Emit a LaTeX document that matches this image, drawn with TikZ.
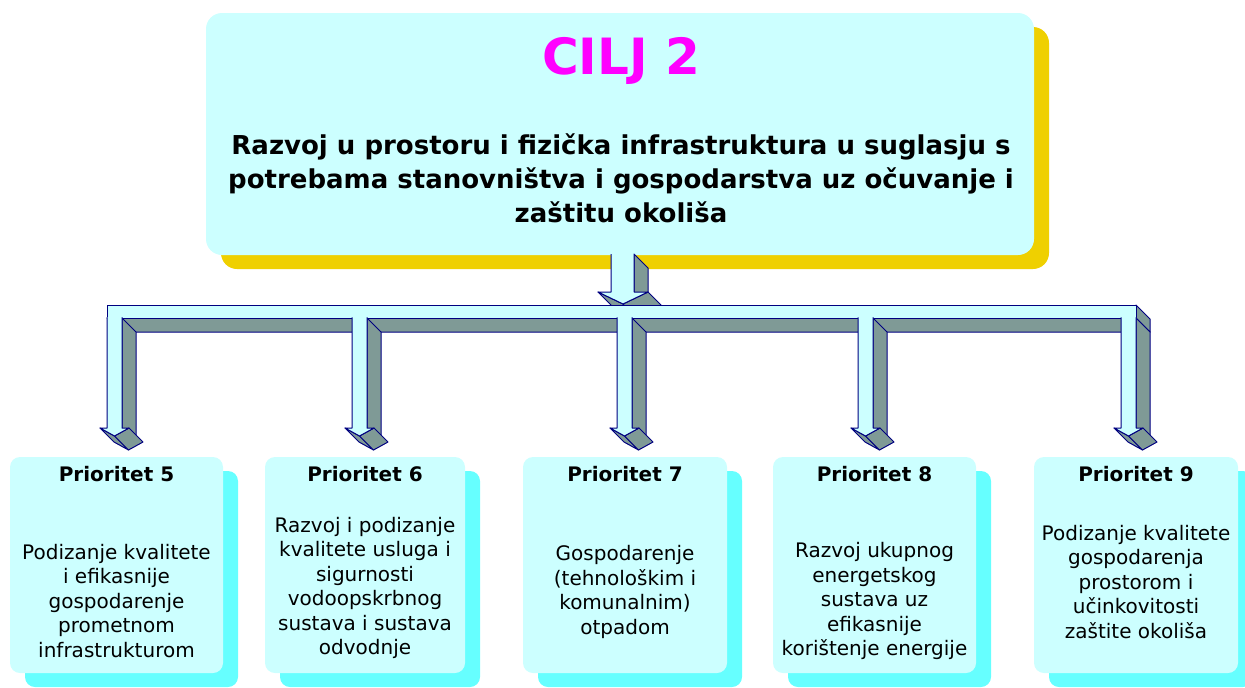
\documentclass[tikz,border=0pt]{standalone}
\usepackage{fontspec}
\setmainfont{DejaVu Sans}
\usetikzlibrary{shadows}

\definecolor{boxcyan}{HTML}{CCFFFF}
\definecolor{goalshadow}{HTML}{EFD000}
\definecolor{prshadow}{HTML}{66FFFF}
\definecolor{sidegray}{HTML}{7F9A96}
\definecolor{edgeblue}{HTML}{000080}
\definecolor{ciljmagenta}{HTML}{FF00FF}

\begin{document}
\begin{tikzpicture}[
    x=1pt, y=-1pt,
    line join=round,
    goalbox/.style={fill=boxcyan, rounded corners=16pt, inner sep=0pt,
                    minimum width=828pt, minimum height=242pt,
                    general shadow={fill=goalshadow, shadow xshift=15pt, shadow yshift=-14pt}},
    prbox/.style  ={fill=boxcyan, rounded corners=10pt, inner sep=0pt,
                    minimum width=#1, minimum height=216pt,
                    general shadow={fill=prshadow, shadow xshift=15pt, shadow yshift=-14pt}},
    prtitle/.style={font=\fontsize{20}{24}\selectfont\bfseries},
    prbody/.style ={font=\fontsize{20}{24.5}\selectfont, align=center, inner sep=0pt},
    face/.style   ={fill=boxcyan, draw=edgeblue, line width=1pt},
    side/.style   ={fill=sidegray, draw=edgeblue, line width=1pt},
]
\useasboundingbox (0,0) rectangle (1245,688);

% goal box
\node[goalbox] (goal) at (620,134) {};
\node[font=\fontsize{50}{54}\selectfont\bfseries, text=ciljmagenta] (goalname) at (621,61) {CILJ 2};
\node[font=\fontsize{26}{34}\selectfont\bfseries, align=center] (goaltext) at (621,178)
     {Razvoj u prostoru i fizička infrastruktura u suglasju s\\
      potrebama stanovništva i gospodarstva uz očuvanje i\\
      zaštitu okoliša};

% stem from the goal box
\filldraw[side] (634,254) -- ++(14,14) -- (648,306) -- (634,292) -- cycle;
\filldraw[side] (598,292) -- (623,304) -- ++(14,14) -- (612,306) -- cycle;
\filldraw[side] (648,292) -- ++(14,14) -- (637,318) -- (623,304) -- cycle;
\filldraw[face] (611,254) -- (611,292) -- (598,292) -- (623,304) -- (648,292) -- (634,292) -- (634,254);

% horizontal bar
\filldraw[side] (107,318) -- (1136,318) -- ++(14,14) -- (121,332) -- cycle;
\filldraw[side] (1136,305) -- ++(14,14) -- ++(0,13) -- (1136,318) -- cycle;
\filldraw[face] (107,305) rectangle (1136,318);

% drops to the priorities
\foreach \xl in {107,352,617,858,1121} {
  \filldraw[side] (\xl+15,318) -- ++(14,14) -- (\xl+29,442) -- (\xl+15,428) -- cycle;
  \filldraw[side] (\xl-7,428) -- (\xl+7.5,436) -- ++(14,14) -- (\xl+7,442) -- cycle;
  \filldraw[side] (\xl+22,428) -- ++(14,14) -- (\xl+21.5,450) -- (\xl+7.5,436) -- cycle;
  \filldraw[face] (\xl,317.4) -- (\xl,428) -- (\xl-7,428) -- (\xl+7.5,436)
                  -- (\xl+22,428) -- (\xl+15,428) -- (\xl+15,317.4);
}

% priority boxes
\foreach \cx/\w/\n/\by/\txt in {
    116.5/213/5/601/{Podizanje kvalitete\\i efikasnije\\gospodarenje\\prometnom\\infrastrukturom},
    365/200/6/588/{Razvoj i podizanje\\kvalitete usluga i\\sigurnosti\\vodoopskrbnog\\sustava i sustava\\odvodnje},
    625/204/7/592/{Gospodarenje\\(tehnološkim i\\komunalnim)\\otpadom},
    874.5/203/8/601/{Razvoj ukupnog\\energetskog\\sustava uz\\efikasnije\\korištenje energije},
    1136/204/9/582/{Podizanje kvalitete\\gospodarenja\\prostorom i\\učinkovitosti\\zaštite okoliša}} {
  \node[prbox=\w pt] (p\n) at (\cx,565) {};
  \node[prtitle] (p\n title) at (\cx,474) {Prioritet \n};
  \node[prbody] (p\n body) at (\cx,\by) {\txt};
}

\end{tikzpicture}
\end{document}
